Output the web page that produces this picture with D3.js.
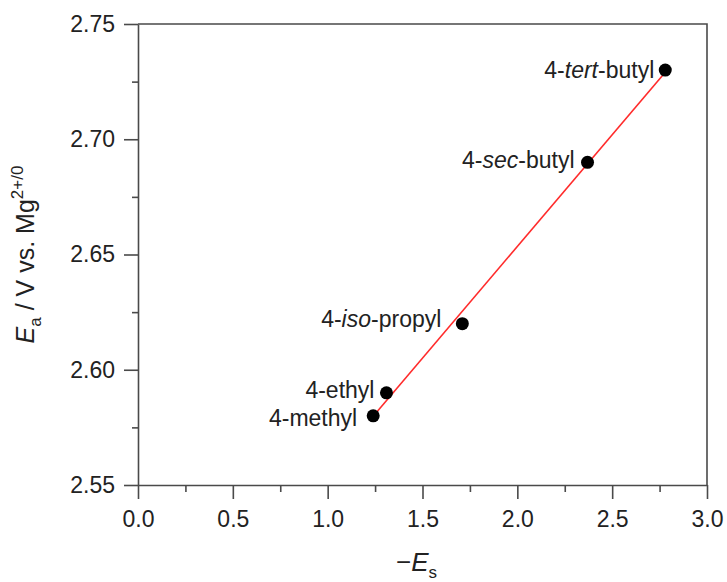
<!DOCTYPE html>
<html>
<head>
<meta charset="utf-8">
<script src="https://cdn.jsdelivr.net/npm/d3@7"></script>
<style>
  body { margin: 0; background: #fff; }
  svg { font-family: 'Liberation Sans', Arial, sans-serif; }
</style>
</head>
<body>
<svg id="chart"></svg>
<script>
// data
const substituents = ['4-methyl', '4-ethyl', '4-iso-propyl', '4-sec-butyl', '4-tert-butyl'];
const negEs = [1.24, 1.31, 1.71, 2.37, 2.78];
const Ea = [2.58, 2.59, 2.62, 2.69, 2.73];
// linear fit end points
const fitX = [1.24, 2.78];
const fitY = [2.5798, 2.7291];
const xTicks = [0, 0.5, 1, 1.5, 2, 2.5, 3];
const yTicks = [2.55, 2.6, 2.65, 2.7, 2.75];

// label placement relative to each dot (layout only)
const labelDx = [-16, -12, -21, -13, -11];
const labelDy = [10, 5, 3, 6, 8];

const width = 727;
const height = 582;
const margin = { top: 24, right: 20, bottom: 97, left: 138 };

const sel = d3.select('#chart').attr('width', width).attr('height', height);

const xScale = d3.scaleLinear().domain([0, 3]).range([margin.left, width - margin.right]);
const yScale = d3.scaleLinear().domain([2.55, 2.75]).range([height - margin.bottom, margin.top]);

const axisColour = '#4a4a4a';

// minor ticks
const xMinor = d3.range(0.25, 3, 0.5);
const yMinor = d3.range(2.575, 2.75, 0.05);

sel.append('g')
  .attr('transform', `translate(0,${yScale.range()[0]})`)
  .call(d3.axisBottom(xScale).tickValues(xMinor).tickSize(7).tickFormat(''))
  .call(g => g.select('.domain').remove());
sel.append('g')
  .attr('transform', `translate(${margin.left},0)`)
  .call(d3.axisLeft(yScale).tickValues(yMinor).tickSize(6).tickFormat(''))
  .call(g => g.select('.domain').remove());

const xAxis = sel.append('g')
  .attr('transform', `translate(0,${yScale.range()[0]})`)
  .call(d3.axisBottom(xScale).tickValues(xTicks).tickSize(14).tickSizeOuter(0).tickPadding(12)
    .tickFormat(d3.format('.1f')));
const yAxis = sel.append('g')
  .attr('transform', `translate(${margin.left},0)`)
  .call(d3.axisLeft(yScale).tickValues(yTicks).tickSize(14).tickSizeOuter(0).tickPadding(9)
    .tickFormat(d3.format('.2f')));

// top and right frame
sel.append('path')
  .attr('d', `M${xScale.range()[0]},${yScale.range()[1]}H${xScale.range()[1]}V${yScale.range()[0]}`)
  .attr('fill', 'none');

sel.selectAll('.tick line, .domain, path')
  .attr('stroke', axisColour)
  .attr('stroke-width', 1.6);
sel.selectAll('.tick text')
  .attr('font-size', 23)
  .attr('fill', '#222')
  .attr('font-family', "'Liberation Sans', Arial, sans-serif");

// fit line
sel.append('line')
  .attr('x1', xScale(fitX[0]))
  .attr('y1', yScale(fitY[0]))
  .attr('x2', xScale(fitX[1]))
  .attr('y2', yScale(fitY[1]))
  .attr('stroke', '#ff2b2b')
  .attr('stroke-width', 1.6);

const points = substituents.map((name, i) => ({ name, x: negEs[i], y: Ea[i], i }));

sel.append('g')
  .selectAll('circle')
  .data(points)
  .join('circle')
  .attr('cx', d => xScale(d.x))
  .attr('cy', d => yScale(d.y))
  .attr('r', 6.5)
  .attr('fill', '#000');

// labels, with the italic prefix part
const labels = sel.append('g')
  .selectAll('text')
  .data(points)
  .join('text')
  .attr('x', d => xScale(d.x) + labelDx[d.i])
  .attr('y', d => yScale(d.y) + labelDy[d.i])
  .attr('text-anchor', 'end')
  .attr('font-size', 23)
  .attr('fill', '#222');

labels.each(function (d) {
  const t = d3.select(this);
  const m = d.name.match(/^4-(iso|sec|tert)-(.*)$/);
  if (m) {
    t.append('tspan').text('4-');
    t.append('tspan').attr('font-style', 'italic').text(m[1]);
    t.append('tspan').text('-' + m[2]);
  } else {
    t.text(d.name);
  }
});

// axis titles
const xTitle = sel.append('text')
  .attr('x', (xScale.range()[0] + xScale.range()[1]) / 2 - 6)
  .attr('y', 571)
  .attr('text-anchor', 'middle')
  .attr('font-size', 26)
  .attr('fill', '#222');
xTitle.append('tspan').text('\u2212');
xTitle.append('tspan').attr('font-style', 'italic').text('E');
xTitle.append('tspan').attr('font-size', 17).attr('dy', 7).text('s');

const yTitle = sel.append('text')
  .attr('transform', `translate(34,${(yScale.range()[0] + yScale.range()[1]) / 2}) rotate(-90)`)
  .attr('text-anchor', 'middle')
  .attr('font-size', 25)
  .attr('fill', '#222');
yTitle.append('tspan').attr('font-style', 'italic').text('E');
yTitle.append('tspan').attr('font-size', 17).attr('dy', 7).text('a');
yTitle.append('tspan').attr('dy', -7).text(' / V vs. Mg');
yTitle.append('tspan').attr('font-size', 17).attr('dy', -11).text('2+/0');
</script>
</body>
</html>
